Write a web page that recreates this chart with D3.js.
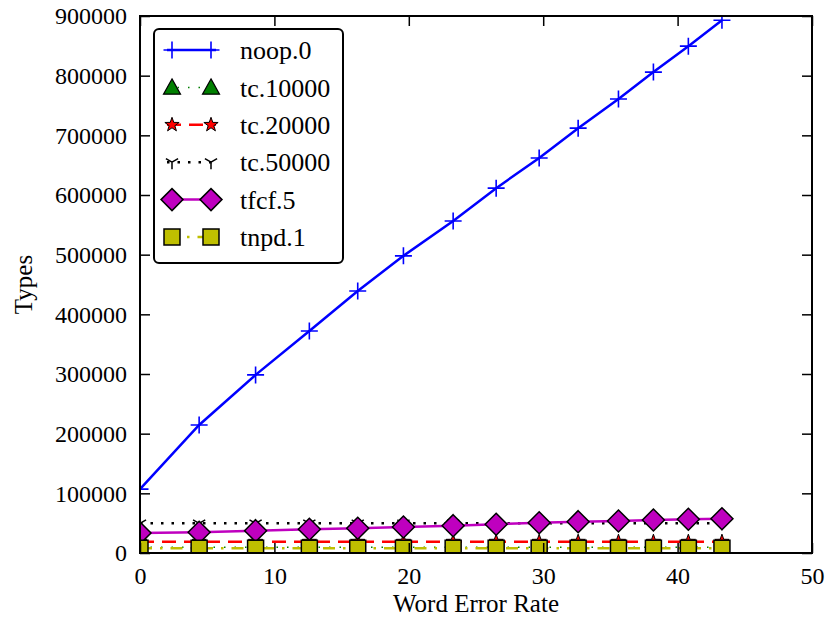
<!DOCTYPE html>
<html><head><meta charset="utf-8">
<script src="https://cdn.jsdelivr.net/npm/d3@7"></script>
<style>body{margin:0;background:#fff}svg{display:block}</style>
</head><body><svg id="c" width="828" height="622"></svg>
<script>
const wer = [0, 4.4, 8.6, 12.6, 16.2, 19.6, 23.3, 26.5, 29.7, 32.6, 35.6, 38.2, 40.8, 43.3];
const noop0 = [107000, 214500, 298500, 372000, 439000, 498000, 556500, 611500, 662000, 712000, 761000, 806000, 849500, 893000];
const tc10000 = [9500, 9500, 9500, 9500, 9500, 9500, 9500, 9500, 9500, 9500, 9500, 9500, 9500, 9500];
const tc20000 = [19000, 19000, 19000, 19000, 19000, 19000, 19000, 19000, 19000, 19000, 19000, 19000, 19000, 19000];
const tc50000 = [49800, 49800, 49800, 49800, 49800, 49800, 49800, 49800, 49800, 49800, 49800, 50000, 50000, 50000];
const tfcf5 = [33500, 34700, 37400, 39700, 41400, 43600, 45800, 48100, 50800, 52500, 53600, 55300, 56500, 57500];
const tnpd1 = [8000, 8000, 8000, 8000, 8000, 8000, 8000, 8000, 8000, 8000, 8000, 8000, 8000, 8000];
const seriesNames = ["noop.0", "tc.10000", "tc.20000", "tc.50000", "tfcf.5", "tnpd.1"];
const xTicks = [0, 10, 20, 30, 40, 50];
const yTicks = [0, 100000, 200000, 300000, 400000, 500000, 600000, 700000, 800000, 900000];

const FONT = "Liberation Serif";

const series = [
  {name: seriesNames[0], vals: noop0, color: "#0000ff", dash: null, lw: 2.5, marker: "plus", size: 17},
  {name: seriesNames[1], vals: tc10000, color: "#008000", dash: "1.5,9", lw: 1.5, marker: "triUp", size: 17},
  {name: seriesNames[2], vals: tc20000, color: "#ff0000", dash: "14,8", lw: 2.5, marker: "star", size: 15},
  {name: seriesNames[3], vals: tc50000, color: "#000000", dash: "2.5,8", lw: 2.5, marker: "triDown", size: 14},
  {name: seriesNames[4], vals: tfcf5, color: "#bf00bf", dash: null, lw: 2.5, marker: "diamond", size: 22},
  {name: seriesNames[5], vals: tnpd1, color: "#bfbf00", dash: "12,8,2.5,8", lw: 2.5, marker: "square", size: 16}
];

const svg = d3.select("#c").attr("font-family", FONT);
const L = 140, R = 812, T = 16, B = 553;
const x = d3.scaleLinear().domain([0, 50]).range([L, R]);
const y = d3.scaleLinear().domain([0, 900000]).range([B, T]);

svg.append("clipPath").attr("id", "clip").append("rect")
  .attr("x", L).attr("y", T).attr("width", R - L).attr("height", B - T);

function drawMarker(g, type, cx, cy, s, color) {
  const h = s / 2;
  if (type === "plus") {
    g.append("path").attr("d", `M${cx - h},${cy}H${cx + h}M${cx},${cy - h}V${cy + h}`)
      .attr("stroke", color).attr("stroke-width", 1.6).attr("fill", "none");
  } else if (type === "triUp") {
    g.append("path").attr("d", `M${cx},${cy - h}L${cx + h},${cy + h * 0.8}L${cx - h},${cy + h * 0.8}Z`)
      .attr("fill", color).attr("stroke", "#000").attr("stroke-width", 1.2);
  } else if (type === "triDown") {
    const d = `M${cx},${cy}V${cy + h}M${cx},${cy}L${cx - h * 0.87},${cy - h * 0.5}M${cx},${cy}L${cx + h * 0.87},${cy - h * 0.5}`;
    g.append("path").attr("d", d).attr("stroke", color).attr("stroke-width", 1.5).attr("fill", "none");
  } else if (type === "star") {
    const pts = [];
    for (let i = 0; i < 10; i++) {
      const r = i % 2 === 0 ? h : h * 0.4;
      const a = -Math.PI / 2 + i * Math.PI / 5;
      pts.push([cx + r * Math.cos(a), cy + r * Math.sin(a)]);
    }
    g.append("path").attr("d", "M" + pts.map(p => p.join(",")).join("L") + "Z")
      .attr("fill", color).attr("stroke", "#000").attr("stroke-width", 1);
  } else if (type === "diamond") {
    g.append("path").attr("d", `M${cx},${cy - h}L${cx + h},${cy}L${cx},${cy + h}L${cx - h},${cy}Z`)
      .attr("fill", color).attr("stroke", "#000").attr("stroke-width", 1.5);
  } else if (type === "square") {
    g.append("rect").attr("x", cx - h).attr("y", cy - h).attr("width", s).attr("height", s)
      .attr("fill", color).attr("stroke", "#000").attr("stroke-width", 1.5);
  }
}

const plot = svg.append("g").attr("clip-path", "url(#clip)");
const line = d3.line().x((d, i) => x(wer[i])).y(d => y(d));
series.forEach(s => {
  const g = plot.append("g");
  g.append("path").datum(s.vals).attr("d", line).attr("fill", "none")
    .attr("stroke", s.color).attr("stroke-width", s.lw)
    .attr("stroke-dasharray", s.dash);
  s.vals.forEach((v, i) => drawMarker(g, s.marker, x(wer[i]), y(v), s.size, s.color));
});

// axes (ticks inside, on all four sides)
const fs = 24;
const axB = svg.append("g").attr("transform", `translate(0,${B})`)
  .call(d3.axisBottom(x).tickValues(xTicks).tickSizeInner(-10).tickSizeOuter(0).tickPadding(14).tickFormat(d3.format("d")));
const axT = svg.append("g").attr("transform", `translate(0,${T})`)
  .call(d3.axisTop(x).tickValues(xTicks).tickSizeInner(-10).tickSizeOuter(0).tickFormat(""));
const axL = svg.append("g").attr("transform", `translate(${L},0)`)
  .call(d3.axisLeft(y).tickValues(yTicks).tickSizeInner(-10).tickSizeOuter(0).tickPadding(13).tickFormat(d3.format("d")));
const axR = svg.append("g").attr("transform", `translate(${R},0)`)
  .call(d3.axisRight(y).tickValues(yTicks).tickSizeInner(-10).tickSizeOuter(0).tickFormat(""));
[axB, axT, axL, axR].forEach(a => {
  a.attr("font-family", FONT).attr("font-size", fs);
  a.select(".domain").remove();
  a.selectAll(".tick line").attr("stroke", "#000").attr("stroke-width", 1.5);
  a.selectAll("text").attr("fill", "#000").attr("font-family", FONT).attr("font-size", fs);
});
axB.selectAll("text").attr("dy", "0.71em");

svg.append("rect").attr("x", L).attr("y", T).attr("width", R - L).attr("height", B - T)
  .attr("fill", "none").attr("stroke", "#000").attr("stroke-width", 2);

// labels
svg.append("text").attr("x", (L + R) / 2).attr("y", 612).attr("text-anchor", "middle")
  .attr("font-family", FONT).attr("font-size", 25).text("Word Error Rate");
svg.append("text").attr("transform", `translate(32,${(T + B) / 2}) rotate(-90)`).attr("text-anchor", "middle")
  .attr("font-family", FONT).attr("font-size", 25).text("Types");

// legend
const lg = svg.append("g");
lg.append("rect").attr("x", 154).attr("y", 29).attr("width", 189).attr("height", 234)
  .attr("rx", 5).attr("fill", "#fff").attr("stroke", "#000").attr("stroke-width", 2);
series.forEach((s, i) => {
  const cy = 50 + i * 37.4;
  const g = lg.append("g");
  g.append("line").attr("x1", 167).attr("x2", 216).attr("y1", cy).attr("y2", cy)
    .attr("stroke", s.color).attr("stroke-width", s.lw).attr("stroke-dasharray", s.dash);
  drawMarker(g, s.marker, 172, cy, s.size, s.color);
  drawMarker(g, s.marker, 211, cy, s.size, s.color);
  g.append("text").attr("x", 240).attr("y", cy).attr("dy", "0.35em")
    .attr("font-family", FONT).attr("font-size", 26).text(s.name);
});
</script></body></html>
